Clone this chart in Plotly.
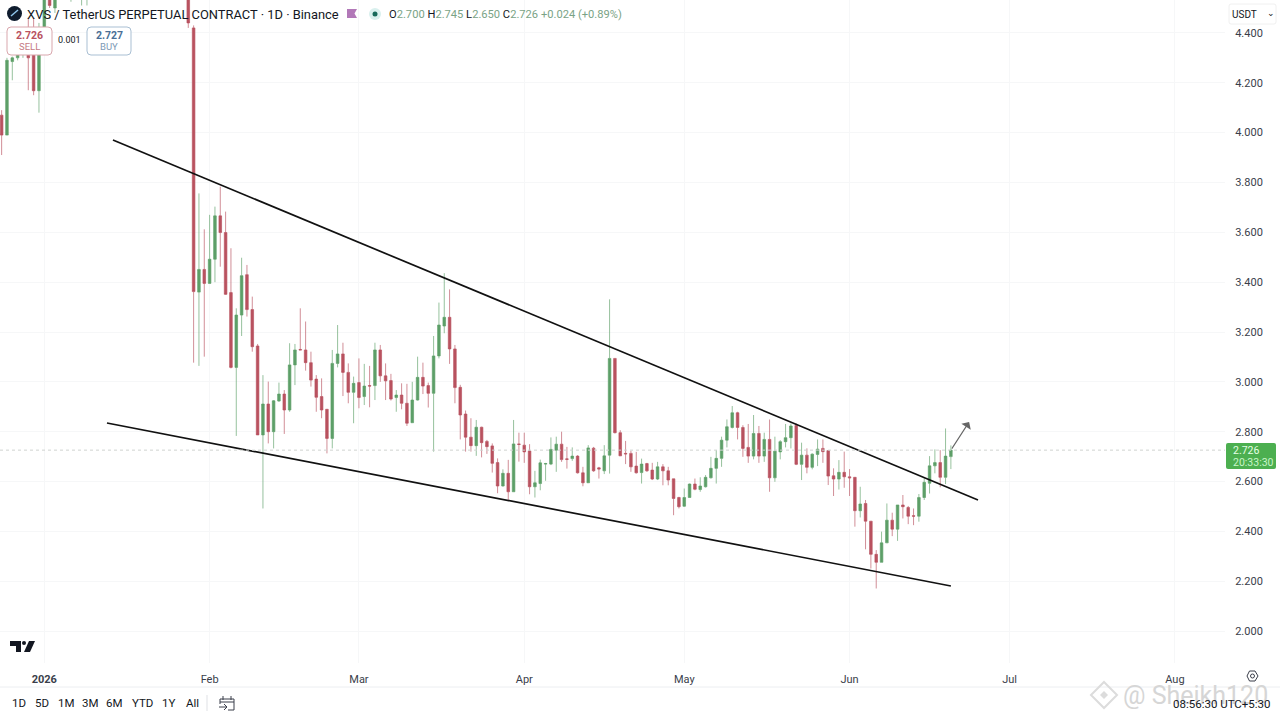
import plotly.graph_objects as go
import pandas as pd

# candles, 24 Dec - 9 Jan then 28 Jan onwards (mid Jan is off the top of the chart)
early_dates = pd.date_range("2025-12-24", "2026-01-09")
early_open = [4.07, 3.99, 4.285, 4.30, 4.33, 4.40, 4.42, 4.168, 4.42, 4.60, 4.50, 4.72, 4.80, 4.85, 4.86, 4.90, 4.92]
early_high = [4.09, 4.30, 4.305, 4.40, 4.42, 4.46, 4.46, 4.44, 4.62, 4.62, 4.60, 4.78, 4.88, 4.92, 4.95, 4.97, 5.00]
early_low = [3.91, 3.99, 4.21, 4.29, 4.30, 4.17, 4.15, 4.08, 4.40, 4.50, 4.48, 4.70, 4.78, 4.525, 4.70, 4.51, 4.51]
early_close = [3.99, 4.29, 4.30, 4.33, 4.40, 4.30, 4.168, 4.42, 4.60, 4.51, 4.60, 4.76, 4.85, 4.86, 4.90, 4.92, 4.97]

dates = pd.date_range("2026-01-28", "2026-06-20")
opens = [4.80, 4.42, 3.36, 3.451, 3.395, 3.492, 3.666, 3.599, 3.358, 3.058, 3.268, 3.43, 3.29, 3.144, 2.787, 2.911,
         2.80, 2.923, 2.951, 2.887, 3.068, 3.13, 3.128, 3.077, 3.011, 2.941, 2.89, 2.773, 3.074, 3.112, 3.038, 2.958,
         2.997, 2.941, 2.985, 2.985, 3.128, 3.024, 3.005, 2.937, 2.947, 2.914, 2.836, 2.927, 3.018, 2.985, 2.954, 3.104,
         3.224, 3.259, 3.132, 2.978, 2.871, 2.778, 2.744, 2.818, 2.761, 2.743, 2.676, 2.582, 2.633, 2.559, 2.751, 2.746,
         2.723, 2.579, 2.592, 2.670, 2.67, 2.726, 2.75, 2.691, 2.692, 2.702, 2.635, 2.595, 2.734, 2.655, 2.643, 2.706,
         3.094, 2.796, 2.713, 2.713, 2.662, 2.636, 2.672, 2.646, 2.61, 2.659, 2.643, 2.611, 2.536, 2.501, 2.536, 2.59,
         2.568, 2.579, 2.615, 2.653, 2.693, 2.766, 2.817, 2.876, 2.817, 2.737, 2.702, 2.793, 2.702, 2.769, 2.615, 2.719,
         2.76, 2.776, 2.825, 2.669, 2.706, 2.657, 2.709, 2.733, 2.724, 2.623, 2.61, 2.637, 2.619, 2.617, 2.483, 2.512,
         2.441, 2.308, 2.276, 2.354, 2.445, 2.409, 2.506, 2.496, 2.463, 2.461, 2.536, 2.593, 2.663, 2.676, 2.617, 2.70]
highs = [4.85, 4.43, 3.756, 3.612, 3.670, 3.703, 3.783, 3.683, 3.536, 3.295, 3.498, 3.469, 3.342, 3.152, 3.027, 3.001,
         2.927, 2.997, 2.967, 3.155, 3.152, 3.295, 3.242, 3.121, 3.027, 3.014, 2.89, 3.128, 3.228, 3.157, 3.074, 3.021,
         3.094, 3.072, 3.064, 3.157, 3.148, 3.074, 3.032, 2.967, 2.994, 2.992, 3.0, 3.101, 3.077, 2.997, 3.184, 3.318,
         3.436, 3.371, 3.148, 2.988, 2.885, 2.854, 2.847, 2.82, 2.767, 2.753, 2.693, 2.649, 2.687, 2.847, 2.796, 2.796,
         2.75, 2.643, 2.688, 2.675, 2.777, 2.78, 2.80, 2.739, 2.737, 2.706, 2.659, 2.746, 2.739, 2.659, 2.746, 3.331,
         3.094, 2.806, 2.763, 2.723, 2.719, 2.692, 2.675, 2.675, 2.679, 2.67, 2.659, 2.611, 2.539, 2.572, 2.592, 2.612,
         2.617, 2.626, 2.699, 2.726, 2.78, 2.849, 2.903, 2.88, 2.826, 2.831, 2.867, 2.823, 2.796, 2.849, 2.78, 2.766,
         2.831, 2.833, 2.833, 2.756, 2.733, 2.713, 2.769, 2.769, 2.726, 2.653, 2.686, 2.72, 2.65, 2.617, 2.579, 2.526,
         2.441, 2.325, 2.399, 2.512, 2.475, 2.506, 2.546, 2.502, 2.492, 2.55, 2.613, 2.702, 2.729, 2.726, 2.813, 2.745]
lows = [4.42, 3.077, 3.064, 3.101, 3.395, 3.40, 3.462, 3.349, 3.054, 2.783, 3.184, 3.262, 3.121, 2.787, 2.492, 2.753,
        2.733, 2.92, 2.791, 2.88, 2.987, 3.128, 3.045, 2.981, 2.88, 2.854, 2.713, 2.733, 3.058, 2.943, 2.914, 2.834,
        2.894, 2.907, 2.898, 2.927, 3.0, 2.927, 2.925, 2.88, 2.89, 2.823, 2.836, 2.925, 2.951, 2.897, 2.72, 3.094,
        3.195, 3.072, 2.914, 2.769, 2.72, 2.72, 2.703, 2.697, 2.711, 2.636, 2.553, 2.58, 2.526, 2.559, 2.68, 2.675,
        2.549, 2.536, 2.565, 2.603, 2.666, 2.639, 2.679, 2.652, 2.683, 2.632, 2.581, 2.595, 2.639, 2.612, 2.63, 2.632,
        2.793, 2.703, 2.67, 2.639, 2.632, 2.592, 2.639, 2.606, 2.606, 2.585, 2.585, 2.465, 2.492, 2.499, 2.536, 2.565,
        2.559, 2.576, 2.612, 2.592, 2.659, 2.737, 2.813, 2.769, 2.699, 2.675, 2.689, 2.675, 2.679, 2.559, 2.599, 2.689,
        2.737, 2.733, 2.666, 2.606, 2.633, 2.649, 2.662, 2.675, 2.586, 2.542, 2.568, 2.575, 2.542, 2.419, 2.456, 2.328,
        2.251, 2.171, 2.276, 2.354, 2.381, 2.362, 2.452, 2.429, 2.425, 2.439, 2.526, 2.552, 2.633, 2.577, 2.59, 2.65]
closes = [4.44, 3.362, 3.451, 3.395, 3.492, 3.666, 3.599, 3.351, 3.058, 3.268, 3.426, 3.29, 3.141, 2.787, 2.911, 2.80,
          2.924, 2.951, 2.887, 3.068, 3.128, 3.128, 3.077, 3.007, 2.938, 2.887, 2.773, 3.074, 3.112, 3.038, 2.958, 2.994,
          2.937, 2.983, 2.983, 3.128, 3.024, 3.004, 2.931, 2.947, 2.914, 2.834, 2.927, 3.018, 2.983, 2.954, 3.104, 3.228,
          3.259, 3.132, 2.977, 2.867, 2.778, 2.744, 2.818, 2.756, 2.74, 2.673, 2.582, 2.633, 2.559, 2.751, 2.749, 2.719,
          2.579, 2.595, 2.675, 2.672, 2.729, 2.75, 2.688, 2.689, 2.702, 2.635, 2.595, 2.735, 2.643, 2.65, 2.703, 3.094,
          2.796, 2.703, 2.711, 2.659, 2.635, 2.67, 2.643, 2.61, 2.659, 2.643, 2.606, 2.532, 2.499, 2.536, 2.59, 2.569,
          2.582, 2.617, 2.653, 2.693, 2.766, 2.82, 2.876, 2.817, 2.733, 2.702, 2.793, 2.702, 2.769, 2.615, 2.722, 2.76,
          2.776, 2.823, 2.669, 2.706, 2.657, 2.71, 2.73, 2.72, 2.622, 2.61, 2.637, 2.619, 2.615, 2.483, 2.51, 2.441,
          2.308, 2.276, 2.354, 2.445, 2.409, 2.506, 2.499, 2.461, 2.461, 2.536, 2.597, 2.663, 2.676, 2.617, 2.702, 2.726]

# hand drawn trend lines and the arrow
upper_x = ["2026-01-13 21:00", "2026-06-25 02:00"]
upper_y = [3.970, 2.526]
lower_x = ["2026-01-12 18:00", "2026-06-20 00:00"]
lower_y = [2.835, 2.181]

price_ticks = [2.0, 2.2, 2.4, 2.6, 2.8, 3.0, 3.2, 3.4, 3.6, 3.8, 4.0, 4.2, 4.4]
month_ticks = ["2026-01-01", "2026-02-01", "2026-03-01", "2026-04-01", "2026-05-01", "2026-06-01", "2026-07-01", "2026-08-01"]
month_labels = ["<b>2026</b>", "Feb", "Mar", "Apr", "May", "Jun", "Jul", "Aug"]
range_buttons = ["1D", "5D", "1M", "3M", "6M", "YTD", "1Y", "All"]
range_button_x = [19, 42, 66, 90, 114, 142, 168, 192]

last_price = 2.726
RED = "#b9525f"
GREEN = "#5d9f68"
TEXT = "#131722"
FONT = "Roboto"
VALUE = "#7aa386"

PLOT_W = 1225
PLOT_H = 663


# overlay items are placed in screen pixels, paper coords need converting
def px(x):
    return x / PLOT_W


def py(y):
    return 1 - y / PLOT_H


def rect_path(x0, y0, x1, y1, r):
    x0, x1 = px(x0), px(x1)
    y0, y1 = py(y0), py(y1)
    rx, ry = r / PLOT_W, r / PLOT_H
    return (f"M{x0 + rx},{y0} L{x1 - rx},{y0} Q{x1},{y0} {x1},{y0 - ry} L{x1},{y1 + ry} Q{x1},{y1} {x1 - rx},{y1} "
            f"L{x0 + rx},{y1} Q{x0},{y1} {x0},{y1 + ry} L{x0},{y0 - ry} Q{x0},{y0} {x0 + rx},{y0} Z")


def poly_path(points):
    return "M" + " L".join(f"{px(a)},{py(b)}" for a, b in points) + " Z"


def label(x, y, text, size=11, color=TEXT, anchor="left"):
    fig.add_annotation(xref="paper", yref="paper", x=px(x), y=py(y), text=text, showarrow=False,
                       xanchor=anchor, yanchor="middle", align=anchor,
                       font=dict(family=FONT, size=size, color=color))


def box(x0, y0, x1, y1, r=0, fill="white", line=None, width=1):
    fig.add_shape(type="path", xref="paper", yref="paper", path=rect_path(x0, y0, x1, y1, r),
                  fillcolor=fill, line=dict(color=line or "rgba(0,0,0,0)", width=width), layer="above")


def stroke(x0, y0, x1, y1, color="#3a3e4a", width=1):
    fig.add_shape(type="line", xref="paper", yref="paper", x0=px(x0), y0=py(y0), x1=px(x1), y1=py(y1),
                  line=dict(color=color, width=width), layer="above")


fig = go.Figure()

# wicks come out paler than the bodies in the reference, so the outline gets some alpha
fig.add_trace(go.Candlestick(
    x=list(early_dates) + list(dates),
    open=early_open + opens,
    high=early_high + highs,
    low=early_low + lows,
    close=early_close + closes,
    increasing=dict(line=dict(color="rgba(93,159,104,0.65)", width=1), fillcolor=GREEN),
    decreasing=dict(line=dict(color="rgba(185,82,95,0.65)", width=1), fillcolor=RED),
    whiskerwidth=0,
    showlegend=False,
))

fig.add_trace(go.Scatter(x=upper_x, y=upper_y, mode="lines", line=dict(color="#111111", width=1.7), showlegend=False))
fig.add_trace(go.Scatter(x=lower_x, y=lower_y, mode="lines", line=dict(color="#111111", width=1.7), showlegend=False))

fig.update_layout(
    width=1280,
    height=720,
    margin=dict(l=0, r=1280 - PLOT_W, t=0, b=720 - PLOT_H),
    paper_bgcolor="white",
    plot_bgcolor="white",
    font=dict(family=FONT, size=11, color=TEXT),
    xaxis=dict(
        type="date",
        range=["2025-12-23 16:40", "2026-08-10 09:36"],
        tickvals=month_ticks,
        ticktext=month_labels,
        tickfont=dict(size=11, color="#3a3e4a"),
        ticks="outside",
        ticklen=6,
        tickcolor="rgba(0,0,0,0)",
        showgrid=True,
        gridcolor="#f6f7f8",
        zeroline=False,
        rangeslider=dict(visible=False),
    ),
    yaxis=dict(
        side="right",
        range=[1.872, 4.532],
        tickvals=price_ticks,
        tickformat=".3f",
        tickfont=dict(size=11, color="#3a3e4a"),
        ticks="outside",
        ticklen=7,
        tickcolor="rgba(0,0,0,0)",
        showgrid=True,
        gridcolor="#f6f7f8",
        zeroline=False,
    ),
)

# last price line
fig.add_hline(y=last_price, line=dict(color="#cfd3d0", width=1, dash="dot"))

# arrow drawn after the breakout
fig.add_annotation(x="2026-06-23 10:00", y=2.839, ax="2026-06-20 00:00", ay=last_price, xref="x", yref="y",
                   axref="x", ayref="y", text="", showarrow=True, arrowhead=1, arrowsize=1.7, arrowwidth=1.1,
                   arrowcolor="#666666")

# header
fig.add_shape(type="circle", xref="paper", yref="paper", x0=px(7), x1=px(22), y0=py(6), y1=py(21),
              fillcolor="#0f1c2e", line=dict(width=0), layer="above")
stroke(11, 16, 18, 10, color="#8fc6ee", width=1.5)
label(24.5, 14, "XVS / TetherUS PERPETUAL CONTRACT · 1D · Binance", size=12.9)
fig.add_shape(type="path", xref="paper", yref="paper",
              path=poly_path([(347, 9), (357, 9), (354.5, 13.5), (357, 18), (347, 18)]),
              fillcolor="#b278b8", line=dict(width=0), layer="above")
fig.add_shape(type="circle", xref="paper", yref="paper", x0=px(369), x1=px(381), y0=py(8), y1=py(20),
              fillcolor="#d9f0ee", line=dict(width=0), layer="above")
fig.add_shape(type="circle", xref="paper", yref="paper", x0=px(372.5), x1=px(377.5), y0=py(11.5), y1=py(16.5),
              fillcolor="#16695a", line=dict(width=0), layer="above")
label(387, 14, f"O<span style='color:{VALUE}'>2.700</span> H<span style='color:{VALUE}'>2.745</span> "
               f"L<span style='color:{VALUE}'>2.650</span> C<span style='color:{VALUE}'>2.726</span> "
               f"<span style='color:{VALUE}'>+0.024 (+0.89%)</span>", size=11.15)

# sell / buy boxes
box(7, 27, 52, 55, r=4, line="#d9a7ad")
label(29.5, 35, "<b>2.726</b>", size=10.5, color="#b9525f", anchor="center")
label(29.5, 47, "SELL", size=9.5, color="#c57a84", anchor="center")
label(69, 40, "0.001", size=9, anchor="center")
box(87, 27, 131, 55, r=4, line="#a9bfd3")
label(109, 35, "<b>2.727</b>", size=10.5, color="#4a6f96", anchor="center")
label(109, 47, "BUY", size=9.5, color="#7d9ab5", anchor="center")

# top right currency button
box(1229, 4, 1276, 24, r=2, line="#f0f0f0")
label(1230, 14, "USDT", size=10)
label(1271, 13, "⌄", size=9, anchor="center")

# last price tag
box(1226, 443, 1276, 469, r=2, fill="#4caf50")
label(1231, 450.5, "2.726", size=10.5, color="#e6ffe6")
label(1231, 462, "20:33:30", size=10.5, color="#c8f5c8")

# tradingview mark
fig.add_shape(type="path", xref="paper", yref="paper",
              path=poly_path([(10, 641), (21, 641), (21, 652), (16, 652), (16, 646), (10, 646)]),
              fillcolor="#131722", line=dict(width=0), layer="above")
fig.add_shape(type="circle", xref="paper", yref="paper", x0=px(22), x1=px(26), y0=py(641), y1=py(645),
              fillcolor="#131722", line=dict(width=0), layer="above")
fig.add_shape(type="path", xref="paper", yref="paper",
              path=poly_path([(29, 641), (35, 641), (30, 652), (24, 652)]),
              fillcolor="#131722", line=dict(width=0), layer="above")

# bottom bar
stroke(0, 687, 1280, 687, color="#eceef1")
for name, x in zip(range_buttons, range_button_x):
    label(x, 703, name, size=11.5, anchor="center")
stroke(207, 695, 207, 711, color="#dfe1e5")
# calendar icon with the go-to arrow
stroke(220, 699, 220, 704)
stroke(220, 699, 234, 699)
stroke(234, 699, 234, 710)
stroke(228, 710, 234, 710)
stroke(220, 702, 234, 702)
stroke(223, 696, 223, 700)
stroke(231, 696, 231, 700)
stroke(219, 707, 227, 707)
stroke(224, 704, 227, 707)
stroke(224, 710, 227, 707)
# settings icon
fig.add_shape(type="path", xref="paper", yref="paper",
              path=poly_path([(1247, 676), (1249.5, 671), (1255, 671), (1258, 676), (1255, 681), (1249.5, 681)]),
              fillcolor="rgba(0,0,0,0)", line=dict(color="#3a3e4a", width=1), layer="above")
fig.add_shape(type="circle", xref="paper", yref="paper", x0=px(1250.5), x1=px(1254.5), y0=py(674), y1=py(678),
              line=dict(color="#3a3e4a", width=1), layer="above")

# watermark sits under the clock text
fig.add_shape(type="path", xref="paper", yref="paper",
              path=poly_path([(1104, 682), (1117, 695), (1104, 708), (1091, 695)]),
              fillcolor="rgba(0,0,0,0)", line=dict(color="#dcdcdc", width=2), layer="above")
fig.add_shape(type="path", xref="paper", yref="paper",
              path=poly_path([(1104, 691), (1108, 695), (1104, 699), (1100, 695)]),
              fillcolor="#dcdcdc", line=dict(width=0), layer="above")
label(1121, 695, "@ Sheikh120", size=25, color="#d6d6d6")
label(1273, 704, "08:56:30 UTC+5:30", size=11.5, anchor="right")

fig.write_html("out.html", post_script="document.body.style.margin='0'", config=dict(displayModeBar=False))
